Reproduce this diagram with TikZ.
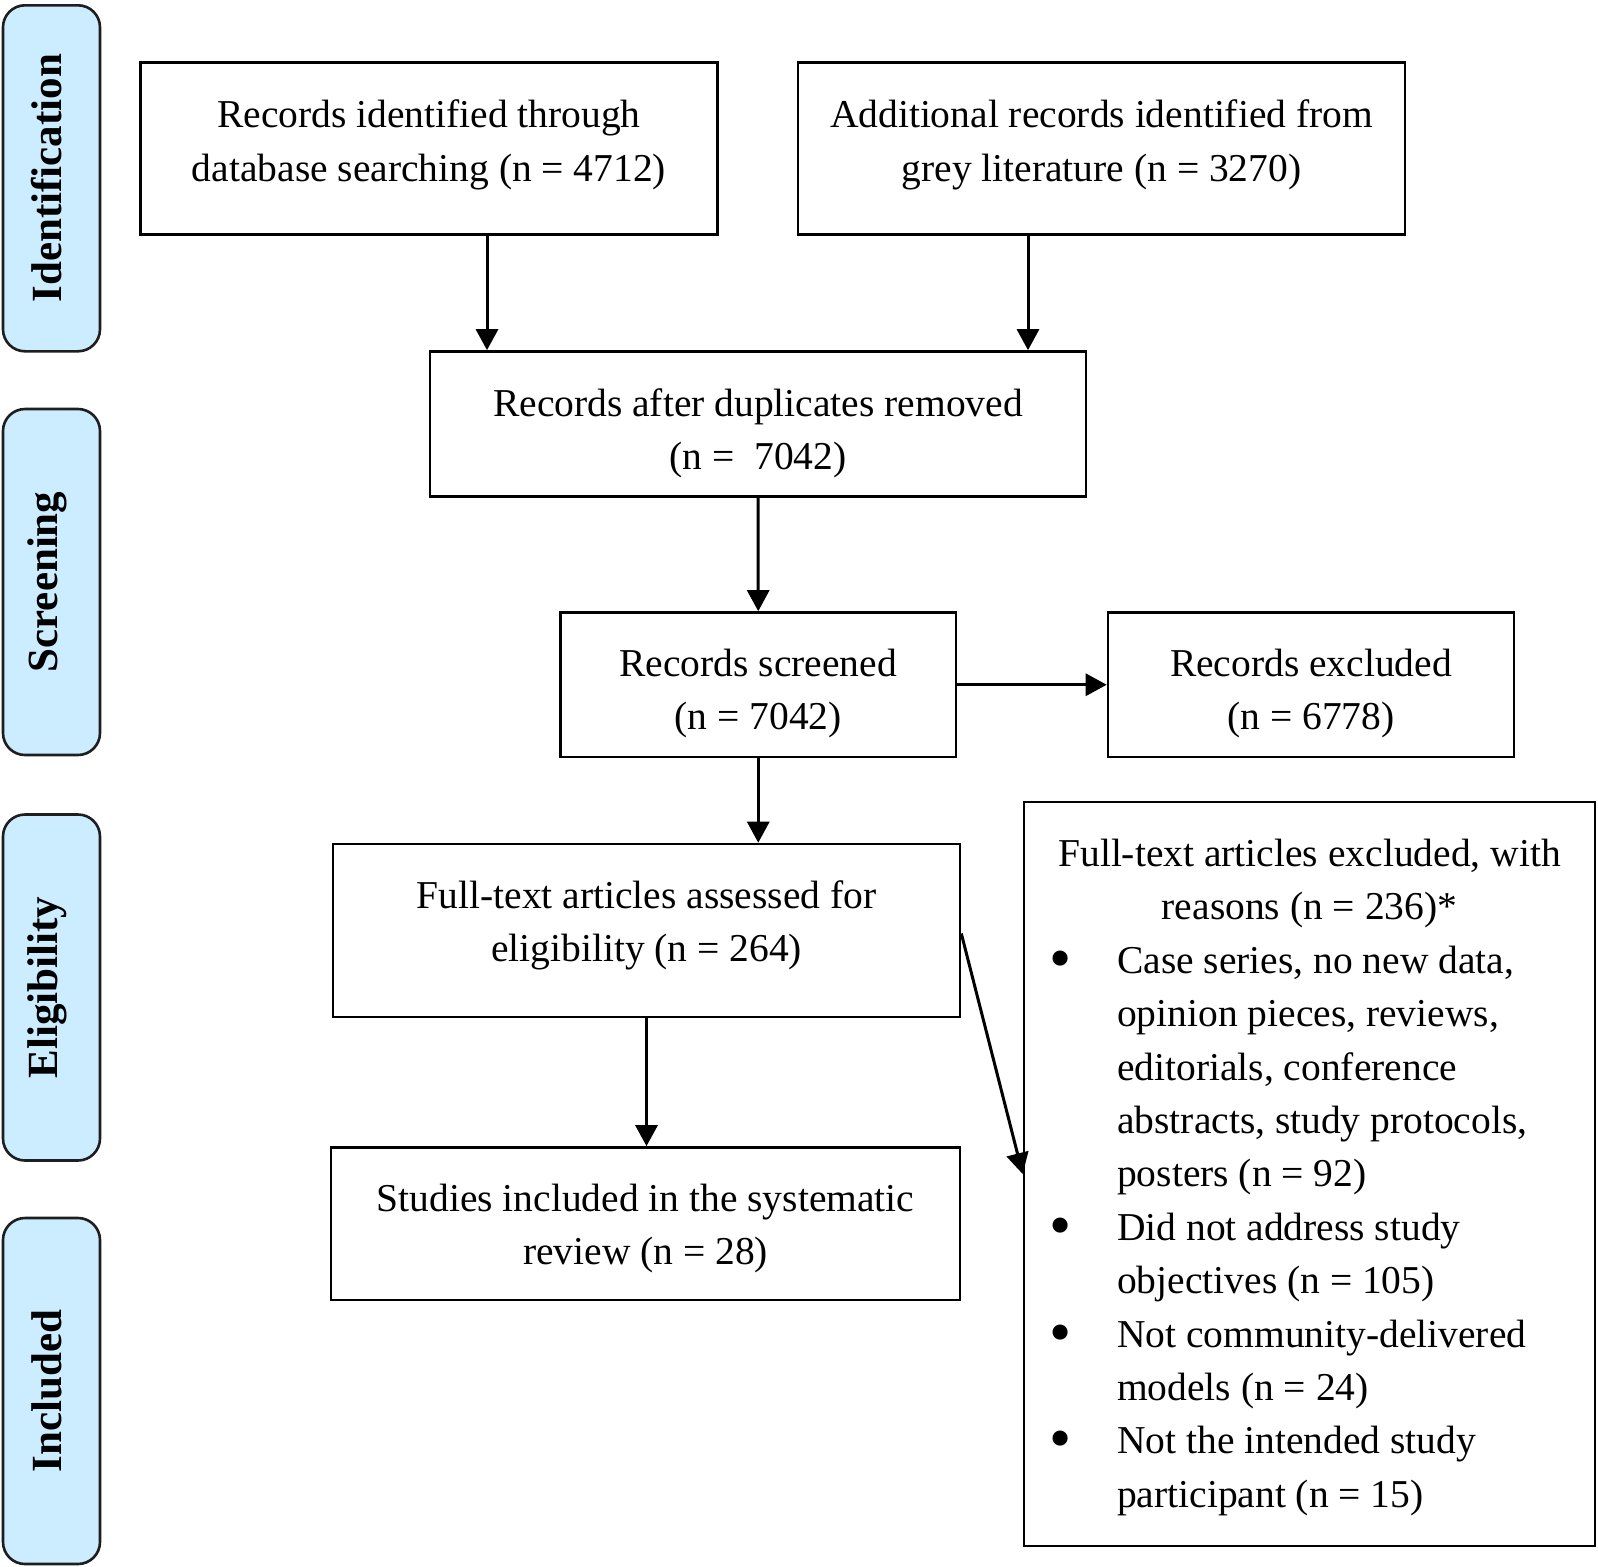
\documentclass[tikz,border=0pt]{standalone}
\usepackage{fontspec}
\setmainfont{Liberation Serif}
\usetikzlibrary{arrows.meta}
\definecolor{sidefill}{RGB}{204,236,255}
\definecolor{sideline}{RGB}{30,30,30}
\newcommand{\bul}{\hspace*{-5pt}\raisebox{-6pt}{\scalebox{1.6}{•}}}
\begin{document}
\begin{tikzpicture}[x=1pt,y=-1pt,
  box/.style={draw=black, line width=2.6pt, fill=white, inner sep=0pt},
  side/.style={draw=sideline, line width=2.6pt, fill=sidefill, rounded corners=22pt,
    minimum width=97pt, minimum height=346pt, inner sep=0pt,
    font=\fontsize{43}{50}\selectfont\bfseries},
  txt/.style={inner sep=0pt, align=center, font=\fontsize{39.5}{53.4}\selectfont},
  arr/.style={line width=3pt, -{Triangle[length=21pt,width=22pt]}}]
\useasboundingbox (0,0) rectangle (1598,1566);
\fill[white] (0,0) rectangle (1598,1566);

% side labels
\node[side] (sid) at (51.5,178.3) {\rotatebox{90}{Identification}\hspace*{9pt}};
\node[side] (ssc) at (51.5,582) {\rotatebox{90}{Screening}\hspace*{9pt}};
\node[side] (sel) at (51.5,987.5) {\rotatebox{90}{Eligibility}\hspace*{9pt}};
\node[side] (sin) at (51.5,1391) {\rotatebox{90}{Included}\hspace*{9pt}};

% boxes
\node[box, minimum width=577pt, minimum height=172pt] (b1) at (429,148.3) {};
\node[box, minimum width=607pt, minimum height=172pt] (b2) at (1101.5,148.3) {};
\node[box, minimum width=656pt, minimum height=145pt] (b3) at (758,424) {};
\node[box, minimum width=395.5pt, minimum height=144.5pt] (b4) at (758.25,684.75) {};
\node[box, minimum width=406pt, minimum height=144.5pt] (b5) at (1311,684.75) {};
\node[box, minimum width=627pt, minimum height=173pt] (b6) at (646.5,930.5) {};
\node[box, minimum width=629pt, minimum height=152.5pt] (b7) at (645.5,1223.7) {};
\node[box, minimum width=571pt, minimum height=744pt] (exc) at (1309.5,1174) {};

% box texts
\node[txt] (t1) at ([yshift=3.6pt]b1.center) {Records identified through\\database searching (n = 4712)};
\node[txt] (t2) at ([yshift=3.6pt]b2.center) {Additional records identified from\\grey literature (n = 3270)};
\node[txt] (t3) at ([yshift=-9pt]b3.center) {Records after duplicates removed\\(n =\ \ 7042)};
\node[txt] (t4) at ([yshift=-9pt]b4.center) {Records screened\\(n = 7042)};
\node[txt] (t5) at ([yshift=-9pt]b5.center) {Records excluded\\(n = 6778)};
\node[txt] (t6) at ([yshift=5pt]b6.center) {Full-text articles assessed for\\eligibility (n = 264)};
\node[txt] (t7) at ([yshift=-5pt]b7.center) {Studies included in the systematic\\review (n = 28)};

% exclusion texts
\node[txt, anchor=north] (exch) at (1309.5,829)
  {\renewcommand{\arraystretch}{1}\begin{tabular}{@{}c@{}}Full-text articles excluded, with\\reasons (n = 236)*\end{tabular}};
\node[txt, anchor=north west] (excl) at (1054,935.8)
  {\renewcommand{\arraystretch}{1}\begin{tabular}{@{}p{63pt}@{}l@{}}
  \bul & Case series, no new data,\\
    & opinion pieces, reviews,\\
    & editorials, conference\\
    & abstracts, study protocols,\\
    & posters (n = 92)\\
  \bul & Did not address study\\
    & objectives (n = 105)\\
  \bul & Not community-delivered\\
    & models (n = 24)\\
  \bul & Not the intended study\\
    & participant (n = 15)
  \end{tabular}};

% connectors
\draw[arr] ([xshift=58pt]b1.south) -- ([xshift=58pt]b1.south |- b3.north);
\draw[arr] ([xshift=-73.5pt]b2.south) -- ([xshift=-73.5pt]b2.south |- b3.north);
\draw[arr] (b3.south) -- (b4.north);
\draw[arr] ([xshift=-2pt]b4.east) -- (b5.west);
\draw[arr] (b4.south) -- (b4.south |- b6.north);
\draw[arr] (b6.south) -- (b6.south |- b7.north);
\draw[arr] ([yshift=-3pt]b6.east) -- (exc.west);
\end{tikzpicture}
\end{document}
